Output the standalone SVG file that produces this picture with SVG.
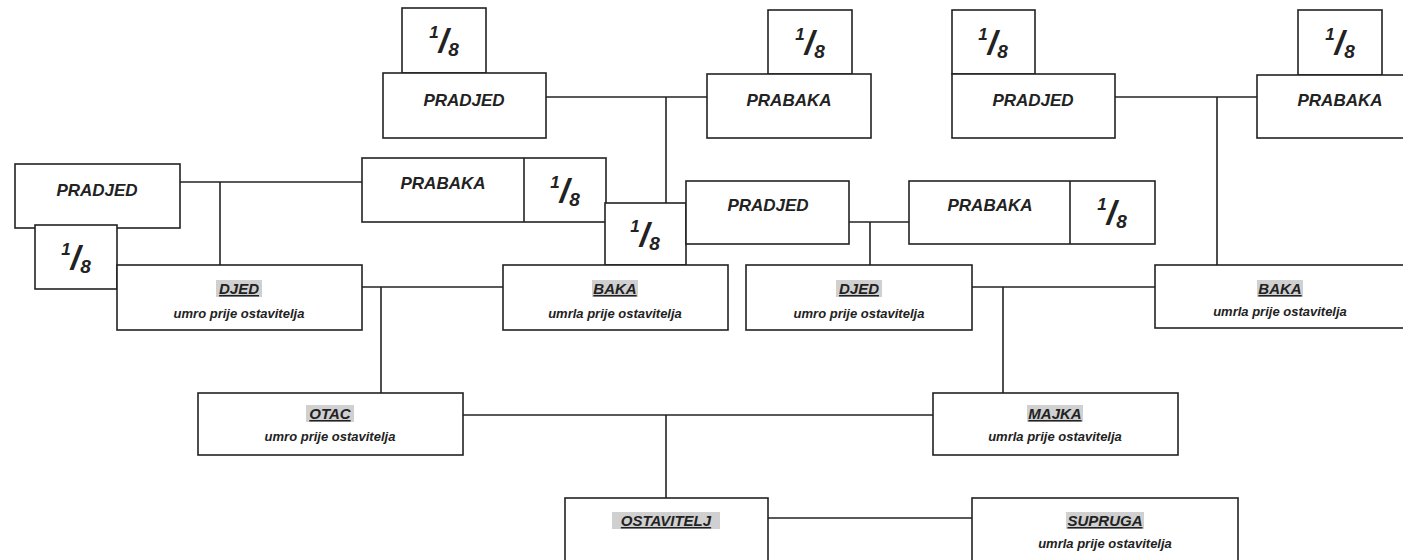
<svg xmlns="http://www.w3.org/2000/svg" width="1403" height="560" viewBox="0 0 1403 560">
<defs>
<style>
.box{fill:#fff;stroke:#222;stroke-width:1.6}
.ln{fill:none;stroke:#222;stroke-width:1.6}
.t{font-family:"Liberation Sans",Arial,sans-serif;font-weight:bold;font-style:italic;fill:#222;text-anchor:middle}
.big{font-size:17px}
.nm{font-size:15px;text-decoration:underline}
.sub{font-size:13px}
.hl{fill:#aaa;opacity:0.55}
.fr{font-family:"Liberation Sans",Arial,sans-serif;font-weight:bold;font-style:italic;fill:#222;text-anchor:middle}
.n1{font-size:17px}
.sl{font-size:34px}
.n8{font-size:19px}
</style>
</defs>
<rect width="1403" height="560" fill="#fff"/>
<g id="connectors">
<polyline class="ln" points="546,97 707,97"/>
<polyline class="ln" points="666,97 666,203"/>
<polyline class="ln" points="1115,97 1257,97"/>
<polyline class="ln" points="1217,97 1217,265"/>
<polyline class="ln" points="180,182 362,182"/>
<polyline class="ln" points="220,182 220,265"/>
<polyline class="ln" points="849,222 909,222"/>
<polyline class="ln" points="870,222 870,265"/>
<polyline class="ln" points="362,287 503,287"/>
<polyline class="ln" points="381,287 381,393"/>
<polyline class="ln" points="972,287 1155,287"/>
<polyline class="ln" points="1003,287 1003,393"/>
<polyline class="ln" points="463,415 933,415"/>
<polyline class="ln" points="666,415 666,498"/>
<polyline class="ln" points="768,518 972,518"/>
</g>
<g id="frac-top-left"><rect class="box" x="402" y="8" width="84" height="65"/><text class="fr" x="444" y="52"><tspan class="n1" dy="-14">1</tspan><tspan class="sl" dy="14">/</tspan><tspan class="n8" dy="4">8</tspan></text></g>
<g id="pradjed-1"><rect class="box" x="383" y="73" width="163" height="65"/><text class="t big" x="464" y="106">PRADJED</text></g>
<g id="frac-top-mid"><rect class="box" x="768" y="10" width="84" height="64"/><text class="fr" x="810" y="54"><tspan class="n1" dy="-14">1</tspan><tspan class="sl" dy="14">/</tspan><tspan class="n8" dy="4">8</tspan></text></g>
<g id="prabaka-1"><rect class="box" x="707" y="74" width="164" height="64"/><text class="t big" x="789" y="106">PRABAKA</text></g>
<g id="frac-top-r1"><rect class="box" x="952" y="10" width="83" height="64"/><text class="fr" x="993" y="54"><tspan class="n1" dy="-14">1</tspan><tspan class="sl" dy="14">/</tspan><tspan class="n8" dy="4">8</tspan></text></g>
<g id="pradjed-4"><rect class="box" x="952" y="74" width="163" height="64"/><text class="t big" x="1033" y="106">PRADJED</text></g>
<g id="frac-top-r2"><rect class="box" x="1298" y="10" width="84" height="65"/><text class="fr" x="1340" y="54"><tspan class="n1" dy="-14">1</tspan><tspan class="sl" dy="14">/</tspan><tspan class="n8" dy="4">8</tspan></text></g>
<g id="prabaka-4"><rect class="box" x="1257" y="75" width="160" height="63"/><text class="t big" x="1340" y="106">PRABAKA</text></g>
<g id="pradjed-2"><rect class="box" x="15" y="164" width="165" height="64"/><text class="t big" x="97" y="196">PRADJED</text></g>
<g id="frac-far-left"><rect class="box" x="35" y="225" width="82" height="64"/><text class="fr" x="76" y="269"><tspan class="n1" dy="-14">1</tspan><tspan class="sl" dy="14">/</tspan><tspan class="n8" dy="4">8</tspan></text></g>
<g id="prabaka-2"><rect class="box" x="362" y="158" width="244" height="64"/><line class="ln" x1="524" y1="158" x2="524" y2="222"/><text class="t big" x="443" y="189">PRABAKA</text><text class="fr" x="565" y="202"><tspan class="n1" dy="-14">1</tspan><tspan class="sl" dy="14">/</tspan><tspan class="n8" dy="4">8</tspan></text></g>
<g id="frac-mid"><rect class="box" x="605" y="203" width="81" height="62"/><text class="fr" x="645" y="246"><tspan class="n1" dy="-14">1</tspan><tspan class="sl" dy="14">/</tspan><tspan class="n8" dy="4">8</tspan></text></g>
<g id="pradjed-3"><rect class="box" x="686" y="181" width="163" height="63"/><text class="t big" x="768" y="211">PRADJED</text></g>
<g id="prabaka-3"><rect class="box" x="909" y="181" width="246" height="63"/><line class="ln" x1="1070" y1="181" x2="1070" y2="244"/><text class="t big" x="990" y="211">PRABAKA</text><text class="fr" x="1112" y="224"><tspan class="n1" dy="-14">1</tspan><tspan class="sl" dy="14">/</tspan><tspan class="n8" dy="4">8</tspan></text></g>
<g id="djed-1"><rect class="box" x="117" y="265" width="245" height="65"/><rect class="hl" x="216" y="280" width="46" height="17"/><text class="t nm" x="239" y="294">DJED</text><text class="t sub" x="239" y="318">umro prije ostavitelja</text></g>
<g id="baka-1"><rect class="box" x="503" y="265" width="225" height="65"/><rect class="hl" x="592" y="280" width="46" height="17"/><text class="t nm" x="615" y="294">BAKA</text><text class="t sub" x="615" y="318">umrla prije ostavitelja</text></g>
<g id="djed-2"><rect class="box" x="746" y="265" width="226" height="65"/><rect class="hl" x="836" y="280" width="46" height="17"/><text class="t nm" x="859" y="294">DJED</text><text class="t sub" x="859" y="318">umro prije ostavitelja</text></g>
<g id="baka-2"><rect class="box" x="1155" y="265" width="262" height="63"/><rect class="hl" x="1257" y="280" width="46" height="17"/><text class="t nm" x="1280" y="294">BAKA</text><text class="t sub" x="1280" y="316">umrla prije ostavitelja</text></g>
<g id="otac"><rect class="box" x="198" y="393" width="265" height="62"/><rect class="hl" x="306" y="405" width="48" height="17"/><text class="t nm" x="330" y="419">OTAC</text><text class="t sub" x="330" y="441">umro prije ostavitelja</text></g>
<g id="majka"><rect class="box" x="933" y="393" width="245" height="62"/><rect class="hl" x="1027" y="405" width="56" height="17"/><text class="t nm" x="1055" y="419">MAJKA</text><text class="t sub" x="1055" y="441">umrla prije ostavitelja</text></g>
<g id="ostavitelj"><rect class="box" x="565" y="498" width="203" height="70"/><rect class="hl" x="612" y="512" width="108" height="17"/><text class="t nm" x="666" y="526">OSTAVITELJ</text></g>
<g id="supruga"><rect class="box" x="972" y="498" width="266" height="70"/><rect class="hl" x="1066" y="512" width="78" height="17"/><text class="t nm" x="1105" y="526">SUPRUGA</text><text class="t sub" x="1105" y="548">umrla prije ostavitelja</text></g>
</svg>
